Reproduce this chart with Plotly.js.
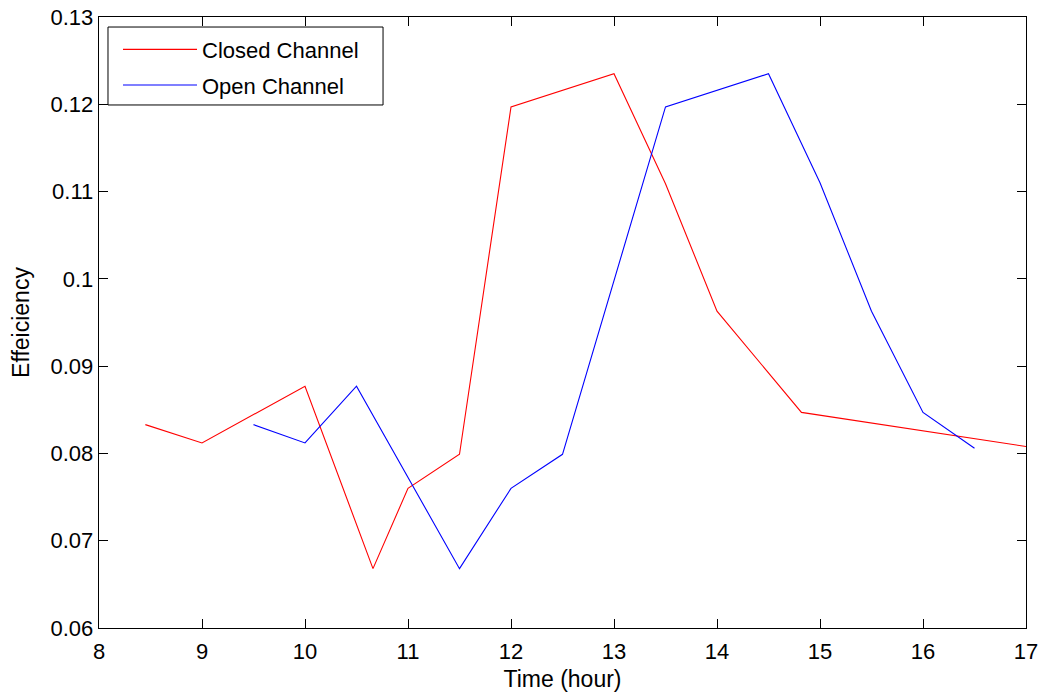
<!DOCTYPE html>
<html>
<head>
<meta charset="utf-8">
<script src="https://cdn.plot.ly/plotly-3.0.1.min.js"></script>
<style>html,body{margin:0;padding:0;background:#fff;}#chart{width:1044px;height:697px;}</style>
</head>
<body>
<div id="chart"></div>
<script>
const closedTime = [8.45, 9, 10, 10.66, 11, 11.5, 12, 13, 13.5, 14, 14.82, 17];
const closedEff = [0.0833, 0.0812, 0.0877, 0.0668, 0.0760, 0.0799, 0.1197, 0.1235, 0.1109, 0.0963, 0.0847, 0.0808];
const openTime = [9.5, 10, 10.5, 11.5, 12, 12.5, 13.5, 14.5, 15, 15.5, 16, 16.5];
const openEff = [0.0833, 0.0812, 0.0877, 0.0668, 0.0760, 0.0799, 0.1197, 0.1235, 0.1110, 0.0963, 0.0847, 0.0806];
const xTicks = [8, 9, 10, 11, 12, 13, 14, 15, 16, 17];
const yTicks = [0.06, 0.07, 0.08, 0.09, 0.1, 0.11, 0.12, 0.13];
const yTickText = ['0.06', '0.07', '0.08', '0.09', '0.1', '0.11', '0.12', '0.13'];

const font = 'Liberation Sans, Arial, sans-serif';
const traces = [
  {x: closedTime, y: closedEff, mode: 'lines', name: 'Closed Channel', legendgroup: 'a', line: {color: '#ff0000', width: 1.1}},
  {x: openTime, y: openEff, mode: 'lines', name: 'Open Channel', legendgroup: 'b', line: {color: '#0000ff', width: 1.1}}
];
const axisCommon = {
  showgrid: false, zeroline: false, showline: true, linecolor: '#000', linewidth: 1.3,
  mirror: 'ticks', ticks: 'inside', ticklen: 9, tickcolor: '#000', tickwidth: 1,
  tickfont: {family: font, size: 22, color: '#000'}
};
const layout = {
  width: 1044, height: 697,
  margin: {l: 99, r: 18, t: 17, b: 69},
  paper_bgcolor: '#fff', plot_bgcolor: '#fff',
  showlegend: true,
  shapes: [{
    type: 'rect', xref: 'paper', yref: 'paper',
    x0: 0.0097, x1: 0.3064, y0: 0.856, y1: 0.9836,
    line: {color: '#000', width: 1}, fillcolor: '#fff', layer: 'below'
  }],
  legend: {
    x: 0.0205, y: 0.981, xanchor: 'left', yanchor: 'top',
    borderwidth: 0, bgcolor: 'rgba(0,0,0,0)',
    font: {family: font, size: 22, color: '#000'},
    itemwidth: 74, tracegroupgap: 4, traceorder: 'grouped'
  },
  xaxis: Object.assign({}, axisCommon, {
    range: [8, 17], tickvals: xTicks, ticklabelstandoff: 3,
    title: {text: 'Time (hour)', font: {family: font, size: 23, color: '#000'}, standoff: 8}
  }),
  yaxis: Object.assign({}, axisCommon, {
    range: [0.06, 0.13], tickvals: yTicks, ticktext: yTickText,
    title: {text: 'Effeiciency', font: {family: font, size: 23, color: '#000'}, standoff: 14}
  })
};
Plotly.newPlot('chart', traces, layout, {displayModeBar: false, staticPlot: true});
</script>
</body>
</html>
